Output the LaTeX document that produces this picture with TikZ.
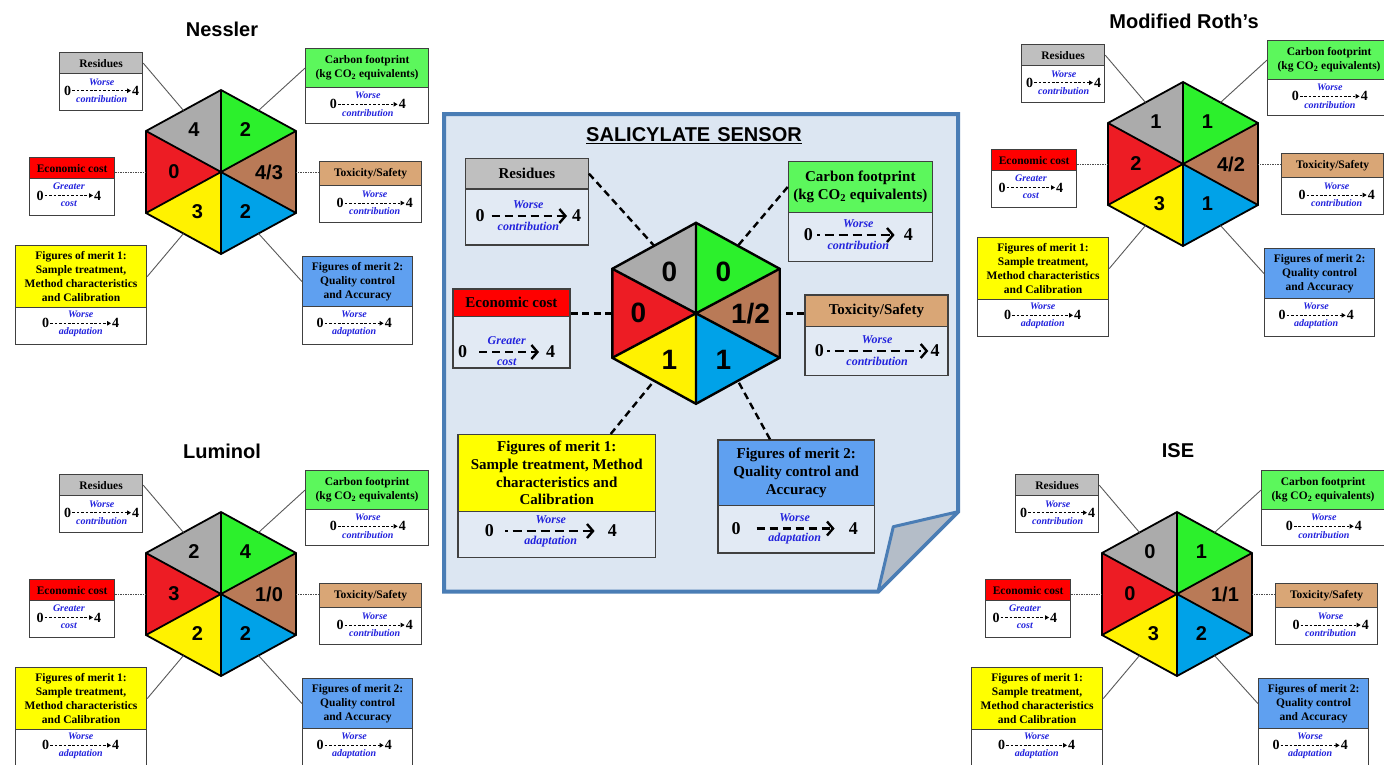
\documentclass[tikz,border=0pt]{standalone}
\usepackage{fontspec}
\setmainfont{Liberation Serif}
\newfontfamily\arialf{Liberation Sans}
\usetikzlibrary{calc,arrows.meta}
\definecolor{hgray}{HTML}{ABABAB}
\definecolor{hgreen}{HTML}{2CF02C}
\definecolor{hbrown}{HTML}{B97A57}
\definecolor{hblue}{HTML}{00A2E8}
\definecolor{hyellow}{HTML}{FFF200}
\definecolor{hred}{HTML}{ED1C24}
\definecolor{bgray}{HTML}{BFBFBF}
\definecolor{bgreen}{HTML}{5CF75C}
\definecolor{bbrown}{HTML}{D9A676}
\definecolor{bblue}{HTML}{5FA0F0}
\definecolor{byellow}{HTML}{FFFF00}
\definecolor{bred}{HTML}{FF0000}
\definecolor{pbg}{HTML}{DCE6F2}
\definecolor{cbody}{HTML}{E2EAF4}
\definecolor{pborder}{HTML}{4A7DB5}
\definecolor{flapc}{HTML}{B4BDC8}
\definecolor{lblue}{HTML}{2222DD}
\definecolor{boxline}{HTML}{404040}
\tikzset{
  hdr/.style={draw=boxline, line width=1.2pt, align=center, inner sep=1pt, anchor=north west},
  bdy/.style={draw=boxline, line width=1.2pt, inner sep=0pt, anchor=north west},
  ptitle/.style={font=\arialf\bfseries\fontsize{20}{20}\selectfont},
  smallset/.style={
    hdrtxt/.style={font=\bfseries\fontsize{11.5}{13.8}\selectfont},
    bdyfill/.style={fill=white},
    sdig/.style={font=\bfseries\fontsize{14}{14}\selectfont, inner sep=1pt},
    slab/.style={font=\bfseries\itshape\fontsize{10}{10}\selectfont, text=lblue, inner sep=0pt},
    lblup/.style={yshift=8.8pt},
    lbldn/.style={yshift=-8.3pt},
    sarrow/.style={line width=0.8pt, dash pattern=on 2.6pt off 1.8pt, -{Triangle[length=4pt,width=4.5pt]}},
    hnum/.style={font=\arialf\bfseries\fontsize{20}{20}\selectfont, inner sep=0pt}
  },
  bigset/.style={
    hdrtxt/.style={font=\bfseries\fontsize{15}{17.6}\selectfont},
    bdyfill/.style={fill=cbody},
    sdig/.style={font=\bfseries\fontsize{18}{18}\selectfont, inner sep=1pt},
    slab/.style={font=\bfseries\itshape\fontsize{12}{12}\selectfont, text=lblue, inner sep=0pt},
    lblup/.style={yshift=11pt},
    lbldn/.style={yshift=-10.5pt},
    sarrow/.style={line width=2.4pt, dash pattern=on 8pt off 5pt, -{Straight Barb[length=6pt,width=14pt]}},
    hnum/.style={font=\arialf\bfseries\fontsize{28}{28}\selectfont, inner sep=0pt}
  },
  dotstart/.style={dash pattern=on 2.5pt off 5pt on 9pt off 5pt on 9pt off 5pt on 9pt off 5pt on 9pt off 5pt on 9pt off 5pt on 9pt off 5pt},
  sconn/.style={draw=black!65, line width=0.9pt},
  sdot/.style={draw=black!70, line width=0.9pt, dash pattern=on 1.5pt off 1pt},
  cconn/.style={line width=2.4pt, dash pattern=on 7pt off 4.5pt}
}
% hexagon: prefix, cx, cy, half width, half height, side y offset, line width
\newcommand{\hexa}[7]{%
  \coordinate (#1C) at (#2,#3);
  \coordinate (#1T) at (#2,{#3-#5});
  \coordinate (#1B) at (#2,{#3+#5});
  \coordinate (#1UR) at ({#2+#4},{#3-#6});
  \coordinate (#1LR) at ({#2+#4},{#3+#6});
  \coordinate (#1UL) at ({#2-#4},{#3-#6});
  \coordinate (#1LL) at ({#2-#4},{#3+#6});
  \fill[hgray] (#1C) -- (#1UL) -- (#1T) -- cycle;
  \fill[hgreen] (#1C) -- (#1T) -- (#1UR) -- cycle;
  \fill[hbrown] (#1C) -- (#1UR) -- (#1LR) -- cycle;
  \fill[hblue] (#1C) -- (#1LR) -- (#1B) -- cycle;
  \fill[hyellow] (#1C) -- (#1B) -- (#1LL) -- cycle;
  \fill[hred] (#1C) -- (#1LL) -- (#1UL) -- cycle;
  \draw[line width=#7] (#1T) -- (#1B) (#1UL) -- (#1LR) (#1UR) -- (#1LL);
  \draw[line width=#7, line join=miter] (#1T) -- (#1UR) -- (#1LR) -- (#1B) -- (#1LL) -- (#1UL) -- cycle;
  \coordinate (#1mUL) at ($(#1UL)!0.5!(#1T)$);
  \coordinate (#1mUR) at ($(#1UR)!0.5!(#1T)$);
  \coordinate (#1mLR) at ($(#1LR)!0.5!(#1B)$);
  \coordinate (#1mLL) at ($(#1LL)!0.5!(#1B)$);
  \coordinate (#1mL) at ($(#1UL)!0.5!(#1LL)$);
  \coordinate (#1mR) at ($(#1UR)!0.5!(#1LR)$);
}
% box: name, x1, y1, x2, y header bottom, y2, colour, text
\newcommand{\bx}[8]{%
  \node[hdr, hdrtxt, fill=#7, minimum width={#4-#2}, minimum height={#5-#3}] (#1) at (#2,#3) {#8};
  \node[bdy, bdyfill, minimum width={#4-#2}, minimum height={#6-#5}] (#1b) at (#2,#5) {};
}
% scale: prefix, x0, x4, y, upper text, lower text, extra arrow options
\newcommand{\scl}[7]{%
  \node[sdig] (#1z) at (#2,#4) {0};
  \node[sdig] (#1f) at (#3,#4) {4};
  \draw[sarrow,#7] (#1z.east) -- node[slab,lblup] (#1u) {#5} node[slab,lbldn] (#1d) {#6} (#1f.west);
}
% small panel: prefix, shift, title, gray, green, brown, blue, yellow, red
\newcommand{\smallpanel}[9]{%
\begin{scope}[smallset, shift={#2}]
  \node[ptitle] (#1ti) at (222,29) {#3};
  \hexa{#1}{221}{172}{75}{82}{41}{1.8pt}
  \node[hnum] (#1n1) at (194,130) {#4};
  \node[hnum] (#1n2) at (245.5,130) {#5};
  \node[hnum] (#1n3) at (269,172) {#6};
  \node[hnum] (#1n4) at (245.5,212) {#7};
  \node[hnum] (#1n5) at (197.5,212) {#8};
  \node[hnum] (#1n6) at (174,172) {#9};
  \bx{#1res}{59}{52}{142}{73}{110}{bgray}{Residues}
  \bx{#1car}{305}{48}{428}{87}{123}{bgreen}{Carbon footprint\\(kg CO\textsubscript{2} equivalents)}
  \bx{#1eco}{29}{157}{114}{178}{215}{bred}{Economic cost}
  \bx{#1tox}{319}{161}{421}{185}{222}{bbrown}{Toxicity/Safety}
  \bx{#1fa}{15}{245}{146}{307}{344}{byellow}{Figures of merit 1:\\Sample treatment,\\Method characteristics\\and Calibration}
  \bx{#1fb}{302}{256}{412}{306}{344}{bblue}{Figures of merit 2:\\Quality control\\and Accuracy}
  \scl{#1sr}{67.7}{135.7}{90.7}{Worse}{contribution}{}
  \scl{#1sc}{333.3}{402.3}{104.3}{Worse}{contribution}{}
  \scl{#1se}{40}{97.7}{195.5}{Greater}{cost}{}
  \scl{#1st}{340}{409.3}{203}{Worse}{contribution}{}
  \scl{#1sa}{45.7}{115.7}{323.3}{Worse}{adaptation}{}
  \scl{#1sb}{320}{388.3}{323.3}{Worse}{adaptation}{}
  \draw[sconn] (#1res.east) -- (#1mUL);
  \draw[sconn] (#1car.west) -- (#1mUR);
  \draw[sdot] (#1eco.east |- #1mL) -- (#1mL);
  \draw[sdot] (#1tox.west |- #1mR) -- (#1mR);
  \draw[sconn] (#1fa.east) -- (#1mLL);
  \draw[sconn] (#1fb.west) -- (#1mLR);
\end{scope}}
\begin{document}
\begin{tikzpicture}[x=1pt,y=-1pt]
\useasboundingbox (0,0) rectangle (1384,764);
\fill[white] (0,0) rectangle (1384,764);
\smallpanel{n}{(0,0)}{Nessler}{4}{2}{4/3}{2}{3}{0}
\smallpanel{r}{(962,-8)}{Modified Roth’s}{1}{1}{4/2}{1}{3}{2}
\smallpanel{l}{(0,422)}{Luminol}{2}{4}{1/0}{2}{2}{3}
\smallpanel{i}{(956,422)}{ISE}{0}{1}{1/1}{2}{3}{0}
\begin{scope}[bigset]
  \path[draw=pborder, line width=4pt, fill=pbg, line join=miter] (444,114) -- (958,114) -- (958,511.7) -- (878,591.7) -- (444,591.7) -- cycle;
  \path[draw=pborder, line width=3pt, fill=flapc, line join=round] (878,591.7) -- (893.3,526.7) -- (958,511.7) -- cycle;
  \node[ptitle] (ct) at (694,136) {\underline{SALICYLATE\hspace{0.35em}SENSOR}};
  \hexa{c}{696}{313.3}{83.7}{90.5}{44.5}{2.4pt}
  \node[hnum] (cn1) at (669.3,271.7) {0};
  \node[hnum] (cn2) at (723.3,271.7) {0};
  \node[hnum] (cn3) at (750.5,313.3) {1/2};
  \node[hnum] (cn4) at (723.3,360) {1};
  \node[hnum] (cn5) at (669.3,360) {1};
  \node[hnum] (cn6) at (638.3,313.3) {0};
  \bx{cres}{465}{157.7}{587.7}{188.3}{244.3}{bgray}{Residues}
  \bx{ccar}{787.7}{161}{931.7}{211.7}{261}{bgreen}{Carbon footprint\\(kg CO\textsubscript{2} equivalents)}
  \bx{ceco}{452.3}{288.3}{569.3}{316}{367.3}{bred}{Economic cost}
  \bx{ctox}{804.3}{294.3}{947.3}{326}{375}{bbrown}{Toxicity/Safety}
  \bx{cfa}{457.3}{434}{655}{511}{556.7}{byellow}{Figures of merit 1:\\Sample treatment, Method\\characteristics and\\Calibration}
  \bx{cfb}{717.3}{439.3}{874}{505}{552.3}{bblue}{Figures of merit 2:\\Quality control and\\Accuracy}
  \scl{csr}{480}{576.7}{216}{Worse}{contribution}{shorten <=6pt, shorten >=4pt}
  \scl{csc}{808.3}{908.3}{235}{Worse}{contribution}{dotstart, shorten <=3pt, shorten >=8pt}
  \scl{cse}{462.7}{550.7}{352}{Greater}{cost}{shorten <=11pt, shorten >=6pt}
  \scl{cst}{819.3}{935}{351}{Worse}{contribution}{dotstart, shorten <=2pt, shorten >=1pt}
  \scl{csa}{489.3}{612.3}{531}{Worse}{adaptation}{dotstart, shorten <=10pt, shorten >=12pt}
  \scl{csb}{736}{853.3}{528.5}{Worse}{adaptation}{shorten <=15pt, shorten >=13pt}
  \draw[cconn] (cres.east) -- (cmUL);
  \draw[cconn] (ccar.west) -- (cmUR);
  \draw[cconn] (ceco.east |- cmL) -- (cmL);
  \draw[cconn] (ctox.west |- cmR) -- (cmR);
  \coordinate (cfac) at (610.7,434);
  \coordinate (cfbc) at (770,439.3);
  \draw[cconn] (cfac) -- (cmLL);
  \draw[cconn] (cfbc) -- (cmLR);
\end{scope}
\end{tikzpicture}
\end{document}
